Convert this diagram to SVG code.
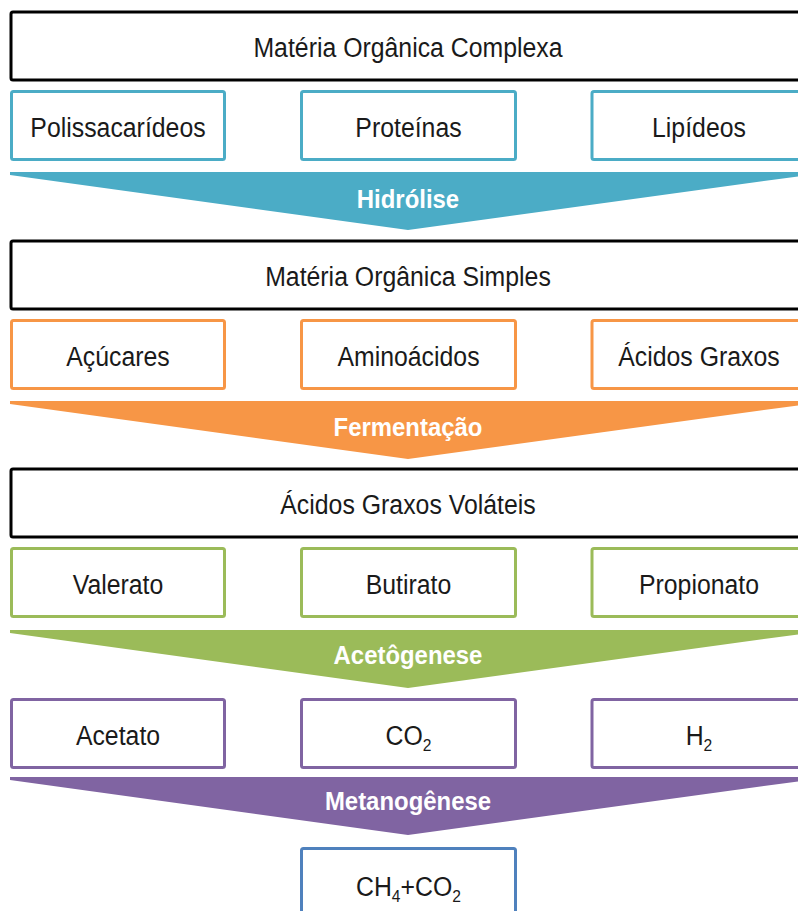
<svg xmlns="http://www.w3.org/2000/svg" width="798" height="911" viewBox="0 0 798 911">
<style>
text{font-family:"Liberation Sans",Arial,sans-serif;font-size:27px;fill:#1a1a1a;text-anchor:middle;transform-box:fill-box;transform-origin:center;transform:scaleX(0.92)}
.big rect{fill:#fff;stroke:#000;stroke-width:3}
.sub rect{fill:#fff;stroke-width:3}
.teal rect{stroke:#4BACC6}
.orange rect{stroke:#F79646}
.green rect{stroke:#9BBB59}
.purple rect{stroke:#8064A2}
.blue rect{stroke:#4F81BD}
.lbl{fill:#fff;font-weight:bold;font-size:26px}
.sb{font-size:17px}
</style>
<rect width="798" height="911" fill="#fff"/>

<g id="n-complexa" class="big"><rect x="11" y="12" width="796" height="68" rx="2"/><text x="408" y="57">Matéria Orgânica Complexa</text></g>
<g id="n-polissac" class="sub teal"><rect x="11.5" y="91.5" width="213" height="68" rx="2"/><text x="118" y="137">Polissacarídeos</text></g>
<g id="n-proteinas" class="sub teal"><rect x="301.5" y="91.5" width="214" height="68" rx="2"/><text x="408.5" y="137">Proteínas</text></g>
<g id="n-lipideos" class="sub teal"><rect x="592" y="91.5" width="214" height="68" rx="2"/><text x="699" y="137">Lipídeos</text></g>

<g id="connectors">
<polygon points="10,172 808,172 808,175 408,230 10,175" fill="#4BACC6"/>
<polygon points="10,401 808,401 808,404 408,459 10,404" fill="#F79646"/>
<polygon points="10,630 808,630 808,633 408,688 10,633" fill="#9BBB59"/>
<polygon points="10,777 808,777 808,780 408,835 10,780" fill="#8064A2"/>
<text class="lbl" x="408" y="208">Hidrólise</text>
<text class="lbl" x="408" y="436">Fermentação</text>
<text class="lbl" x="408" y="664">Acetôgenese</text>
<text class="lbl" x="408" y="810">Metanogênese</text>
</g>

<g id="n-simples" class="big"><rect x="11" y="241" width="796" height="68" rx="2"/><text x="408" y="286">Matéria Orgânica Simples</text></g>
<g id="n-acucares" class="sub orange"><rect x="11.5" y="320.5" width="213" height="68" rx="2"/><text x="118" y="366">Açúcares</text></g>
<g id="n-aminoacidos" class="sub orange"><rect x="301.5" y="320.5" width="214" height="68" rx="2"/><text x="408.5" y="366">Aminoácidos</text></g>
<g id="n-acidosgraxos" class="sub orange"><rect x="592" y="320.5" width="214" height="68" rx="2"/><text x="699" y="366">Ácidos Graxos</text></g>

<g id="n-volateis" class="big"><rect x="11" y="469" width="796" height="68" rx="2"/><text x="408" y="514">Ácidos Graxos Voláteis</text></g>
<g id="n-valerato" class="sub green"><rect x="11.5" y="548.5" width="213" height="68" rx="2"/><text x="118" y="594">Valerato</text></g>
<g id="n-butirato" class="sub green"><rect x="301.5" y="548.5" width="214" height="68" rx="2"/><text x="408.5" y="594">Butirato</text></g>
<g id="n-propionato" class="sub green"><rect x="592" y="548.5" width="214" height="68" rx="2"/><text x="699" y="594">Propionato</text></g>

<g id="n-acetato" class="sub purple"><rect x="11.5" y="699.5" width="213" height="68" rx="2"/><text x="118" y="745">Acetato</text></g>
<g id="n-co2" class="sub purple"><rect x="301.5" y="699.5" width="214" height="68" rx="2"/><text x="408.5" y="745">CO<tspan class="sb" dy="6">2</tspan></text></g>
<g id="n-h2" class="sub purple"><rect x="592" y="699.5" width="214" height="68" rx="2"/><text x="699" y="745">H<tspan class="sb" dy="6">2</tspan></text></g>

<g id="n-ch4co2" class="sub blue"><rect x="301.5" y="848.5" width="214" height="80" rx="2"/><text x="408.5" y="896">CH<tspan class="sb" dy="6">4</tspan><tspan dy="-6">+CO</tspan><tspan class="sb" dy="6">2</tspan></text></g>
</svg>
